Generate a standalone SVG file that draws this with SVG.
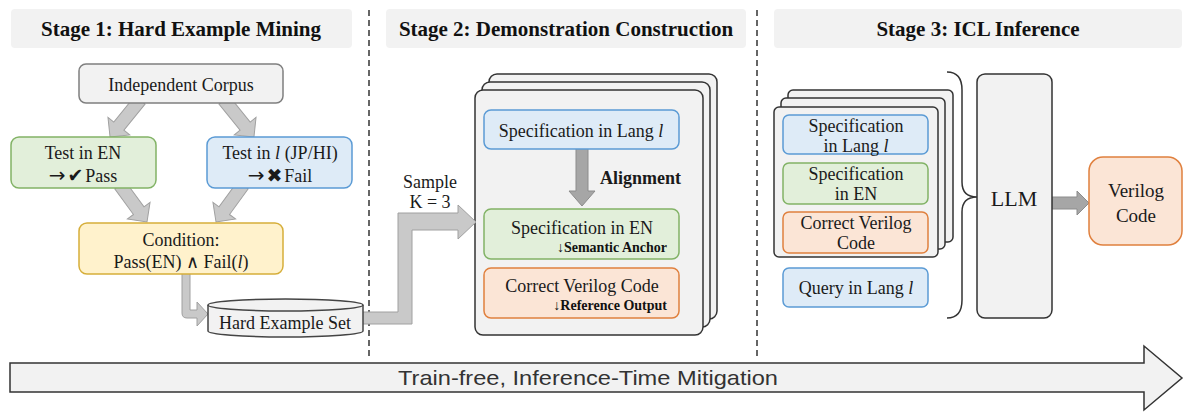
<svg xmlns="http://www.w3.org/2000/svg" width="1192" height="418" viewBox="0 0 1192 418">
<style>
.t{font-family:"Liberation Serif","Times New Roman",serif;font-size:18px;fill:#1a1a1a;text-anchor:middle}
.title{font-family:"Liberation Serif","Times New Roman",serif;font-size:21px;font-weight:bold;fill:#111;text-anchor:middle}
.hdr{fill:#f2f2f2}
.b{font-weight:bold}
.i{font-style:italic}
.note{font-family:"Liberation Serif","Times New Roman",serif;font-size:14px;font-weight:bold;fill:#111;text-anchor:end}
.sym{font-family:"DejaVu Sans",sans-serif;font-size:19px}
.arr{font-family:"DejaVu Sans",sans-serif;font-size:20px}
.blue{fill:#deebf7;stroke:#5b9bd5;stroke-width:1.5}
.green{fill:#e2efda;stroke:#82b366;stroke-width:1.5}
.yellow{fill:#fff2cc;stroke:#d6ae3a;stroke-width:1.5}
.orange{fill:#fbe5d6;stroke:#e0803e;stroke-width:1.5}
.gray{fill:#f2f2f2;stroke:#7f7f7f;stroke-width:1.5}
.card{fill:#f2f2f2;stroke:#333;stroke-width:1.5}
.fat{fill:#c9c9c9;stroke:#a0a0a0;stroke-width:1}
.fat2{fill:#a6a6a6;stroke:#8c8c8c;stroke-width:1}
.dash{stroke:#333;stroke-width:1.5;stroke-dasharray:6,4;fill:none}
</style>

<!-- stage headers -->
<g id="stage1-header">
<rect class="hdr" x="11" y="9" width="341" height="39" rx="4"/>
<text class="title" x="181" y="36">Stage 1: Hard Example Mining</text>
</g>
<g id="stage2-header">
<rect class="hdr" x="386" y="9" width="360" height="39" rx="4"/>
<text class="title" x="566" y="36">Stage 2: Demonstration Construction</text>
</g>
<g id="stage3-header">
<rect class="hdr" x="774" y="9" width="408" height="39" rx="4"/>
<text class="title" x="978" y="36">Stage 3: ICL Inference</text>
</g>

<!-- dividers -->
<g id="dividers">
<line class="dash" x1="369" y1="10" x2="369" y2="358"/>
<line class="dash" x1="757" y1="10" x2="757" y2="358"/>
</g>

<!-- stacked cards (containers) -->
<g id="demo-stack">
<rect class="card" x="489" y="74" width="228" height="245" rx="8"/>
<rect class="card" x="482" y="82" width="228" height="245" rx="8"/>
<rect class="card" x="475" y="90" width="228" height="245" rx="8"/>
</g>
<g id="icl-stack">
<rect class="card" x="788" y="90" width="165" height="152" rx="5"/>
<rect class="card" x="781" y="98" width="164" height="151" rx="5"/>
<rect class="card" x="774" y="107" width="164" height="150" rx="5"/>
</g>

<!-- connectors -->
<g id="connectors">
<path class="fat" transform="translate(140,100) rotate(129)" d="M0,-6.5 H33.6 V-14 L47.6,0 L33.6,14 V6.5 H0 Z"/>
<path class="fat" transform="translate(224,100) rotate(51)" d="M0,-6.5 H33.6 V-14 L47.6,0 L33.6,14 V6.5 H0 Z"/>
<path class="fat" transform="translate(120,185) rotate(53.9)" d="M0,-6.5 H31.8 V-14 L45.8,0 L31.8,14 V6.5 H0 Z"/>
<path class="fat" transform="translate(243,185) rotate(126.1)" d="M0,-6.5 H31.8 V-14 L45.8,0 L31.8,14 V6.5 H0 Z"/>
<path class="fat" d="M182,272 V313 Q182,318 187,318 H197 V326 L208,314 L197,302 V310 H190 V272 Z"/>
<path class="fat" d="M360,312 H398 V213 H458 V205 L476,222 L458,239 V230 H412 V324 H360 Z"/>
<path class="fat2" d="M576,148 V191 H569 L582,206 L595,191 H588 V148 Z"/>
<path class="fat2" d="M1052,197 H1077 V191 L1089,203 L1077,215 V209 H1052 Z"/>
<path d="M947,72 Q962,72 962,90 V182 Q962,197 977,197 Q962,197 962,212 V300 Q962,318 947,318" fill="none" stroke="#333" stroke-width="1.5"/>
</g>

<!-- Stage 1 nodes -->
<g id="independent-corpus">
<rect class="gray" x="79" y="64" width="204" height="39" rx="7"/>
<text class="t" x="181" y="91">Independent Corpus</text>
</g>
<g id="test-en">
<rect class="green" x="11" y="137" width="145" height="51" rx="8"/>
<text class="t" x="83" y="159">Test in EN</text>
<text class="t" x="83" y="182"><tspan class="arr">→</tspan><tspan class="sym" dx="2">✔</tspan><tspan dx="2">Pass</tspan></text>
</g>
<g id="test-l">
<rect class="blue" x="207" y="137" width="145" height="51" rx="8"/>
<text class="t" x="280" y="159">Test in <tspan class="i">l</tspan> (JP/HI)</text>
<text class="t" x="280" y="182"><tspan class="arr">→</tspan><tspan class="sym" dx="2">✖</tspan><tspan dx="2">Fail</tspan></text>
</g>
<g id="condition">
<rect class="yellow" x="79" y="223" width="204" height="51" rx="8"/>
<text class="t" x="181" y="246">Condition:</text>
<text class="t" x="181" y="268">Pass(EN) ∧ Fail(<tspan class="i">l</tspan>)</text>
</g>
<g id="hard-example-set">
<path d="M208,305 V331 A77.5,6 0 0 0 363,331 V305" fill="#f2f2f2" stroke="#444" stroke-width="1.5"/>
<ellipse cx="285.5" cy="305" rx="77.5" ry="6" fill="#f2f2f2" stroke="#444" stroke-width="1.5"/>
<text class="t" x="285" y="329">Hard Example Set</text>
</g>

<!-- Stage 2 -->
<g id="sample-label">
<text class="t" x="430" y="188">Sample</text>
<text class="t" x="430" y="208">K = 3</text>
</g>
<g id="spec-lang-l">
<rect class="blue" x="484" y="110" width="195" height="39" rx="7"/>
<text class="t" x="581" y="137">Specification in Lang <tspan class="i">l</tspan></text>
</g>
<g id="alignment-label">
<text class="t b" x="600" y="184" style="text-anchor:start;font-size:18px">Alignment</text>
</g>
<g id="spec-en">
<rect class="green" x="484" y="209" width="195" height="50" rx="7"/>
<text class="t" x="582" y="234">Specification in EN</text>
<text class="note" x="667" y="252">↓Semantic Anchor</text>
</g>
<g id="correct-verilog">
<rect class="orange" x="484" y="268" width="195" height="50" rx="7"/>
<text class="t" x="582" y="292">Correct Verilog Code</text>
<text class="note" x="667" y="310">↓Reference Output</text>
</g>

<!-- Stage 3 -->
<g id="icl-spec-lang-l">
<rect class="blue" x="783" y="115" width="145" height="39" rx="6"/>
<text class="t" x="856" y="132">Specification</text>
<text class="t" x="856" y="152">in Lang <tspan class="i">l</tspan></text>
</g>
<g id="icl-spec-en">
<rect class="green" x="783" y="163" width="145" height="41" rx="6"/>
<text class="t" x="856" y="180">Specification</text>
<text class="t" x="856" y="200">in EN</text>
</g>
<g id="icl-correct-verilog">
<rect class="orange" x="783" y="212" width="145" height="41" rx="6"/>
<text class="t" x="856" y="229">Correct Verilog</text>
<text class="t" x="856" y="249">Code</text>
</g>
<g id="query">
<rect class="blue" x="783" y="268" width="145" height="39" rx="6"/>
<text class="t" x="856" y="294">Query in Lang <tspan class="i">l</tspan></text>
</g>
<g id="llm">
<rect class="card" x="977" y="74" width="75" height="244" rx="8"/>
<text class="t" x="1014" y="206" style="font-size:22px">LLM</text>
</g>
<g id="verilog-code">
<rect class="orange" x="1089" y="157" width="93" height="88" rx="14"/>
<text class="t" x="1136" y="197" style="font-size:19px">Verilog</text>
<text class="t" x="1136" y="222" style="font-size:19px">Code</text>
</g>

<!-- bottom arrow -->
<g id="timeline">
<path d="M10,363 H1144 V346 L1182,378 L1144,410 V392 H10 Z" fill="#f2f2f2" stroke="#333" stroke-width="1.5"/>
<text x="588" y="385" font-family="Liberation Sans, Arial, sans-serif" font-size="21" fill="#333" text-anchor="middle" textLength="380" lengthAdjust="spacingAndGlyphs">Train-free, Inference-Time Mitigation</text>
</g>
</svg>
